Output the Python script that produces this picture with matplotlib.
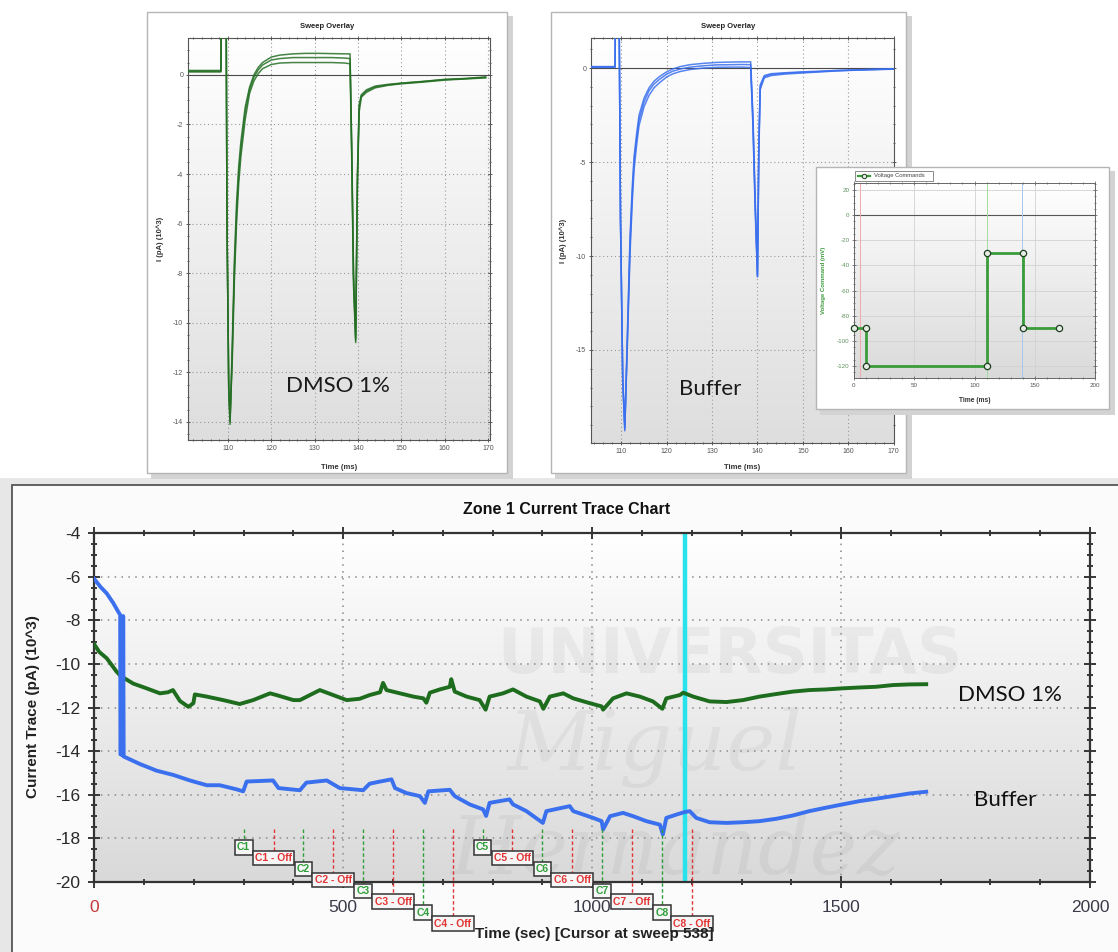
import matplotlib
matplotlib.use("Agg")
import matplotlib.pyplot as plt
import numpy as np
from matplotlib.colors import LinearSegmentedColormap
from matplotlib.lines import Line2D
from matplotlib.patches import Rectangle
from matplotlib.ticker import MultipleLocator

plt.rcParams["font.family"] = ["Liberation Sans", "DejaVu Sans"]
plt.rcParams["axes.unicode_minus"] = False

W, H = 1118, 952

# sweep overlay, DMSO 1% -- time (ms), current (10^3 pA); three overlaid sweeps
dmso_t = [100.8, 108.4, 108.5, 109.6, 109.8, 110.2, 110.5, 111.0, 111.5, 112.0,
          112.5, 113.0, 114.0, 115.0, 116.0, 117.0, 118.0, 120.0, 122.0, 125.0,
          128.0, 131.0, 134.0, 137.0, 138.2, 138.6, 139.0, 139.5, 139.9, 140.3,
          140.8, 142.0, 144.0, 147.0, 150.0, 155.0, 160.0, 165.0, 169.5]
dmso_hi = [0.18, 0.18, 3.0, 3.0, -6.0, -12.5, -14.1, -11.0, -7.5, -5.2,
           -3.7, -2.7, -1.3, -0.5, 0.0, 0.3, 0.5, 0.72, 0.8, 0.85,
           0.87, 0.87, 0.86, 0.85, 0.85, -3.0, -8.0, -10.6, -4.0, -1.2,
           -0.8, -0.6, -0.45, -0.38, -0.33, -0.26, -0.18, -0.14, -0.08]
dmso_mid = [0.15, 0.15, 3.0, 3.0, -6.0, -12.6, -14.0, -11.3, -7.9, -5.6,
            -4.0, -3.0, -1.5, -0.6, -0.1, 0.2, 0.4, 0.6, 0.66, 0.7,
            0.7, 0.7, 0.7, 0.68, 0.66, -3.2, -8.2, -10.7, -4.2, -1.3,
            -0.85, -0.65, -0.48, -0.4, -0.34, -0.27, -0.19, -0.15, -0.1]
dmso_lo = [0.12, 0.12, 3.0, 3.0, -6.0, -12.7, -13.9, -11.6, -8.3, -6.0,
           -4.4, -3.3, -1.8, -0.75, -0.25, 0.05, 0.25, 0.42, 0.48, 0.5,
           0.5, 0.5, 0.5, 0.48, 0.45, -3.5, -8.5, -10.8, -4.5, -1.5,
           -0.9, -0.7, -0.52, -0.42, -0.36, -0.29, -0.21, -0.16, -0.12]

# sweep overlay, buffer
buf_t = [103.3, 108.6, 108.7, 109.5, 109.8, 110.3, 110.75, 111.3, 111.9, 112.4,
         112.8, 113.4, 113.9, 115.0, 116.1, 117.2, 118.4, 120.0, 121.3, 123.0,
         125.1, 128.0, 131.0, 134.0, 136.5, 138.5, 139.0, 139.5, 140.0, 140.3,
         140.6, 141.5, 143.0, 146.0, 150.0, 153.4, 157.0, 160.9, 165.0, 170.0]
buf_hi = [0.08, 0.08, 3.0, 3.0, -8.0, -16.5, -19.3, -14.3, -9.0, -6.3,
          -4.7, -3.4, -2.5, -1.6, -1.05, -0.7, -0.45, -0.2, -0.05, 0.08,
          0.18, 0.25, 0.3, 0.32, 0.33, 0.33, -2.5, -7.0, -11.0, -4.0,
          -0.9, -0.4, -0.3, -0.25, -0.2, -0.17, -0.13, -0.1, -0.07, -0.05]
buf_mid = [0.06, 0.06, 3.0, 3.0, -8.0, -16.6, -19.2, -14.6, -9.4, -6.7,
           -5.0, -3.7, -2.75, -1.8, -1.2, -0.85, -0.6, -0.32, -0.17, -0.05,
           0.05, 0.12, 0.17, 0.18, 0.19, 0.18, -2.8, -7.3, -11.1, -4.3,
           -1.0, -0.45, -0.34, -0.28, -0.22, -0.19, -0.14, -0.11, -0.08, -0.05]
buf_lo = [0.04, 0.04, 3.0, 3.0, -8.0, -16.7, -19.1, -14.9, -9.9, -7.1,
          -5.4, -4.0, -3.05, -2.05, -1.45, -1.05, -0.78, -0.47, -0.31, -0.18,
          -0.08, 0.0, 0.04, 0.05, 0.05, 0.03, -3.1, -7.6, -11.1, -4.6,
          -1.15, -0.52, -0.4, -0.32, -0.26, -0.21, -0.16, -0.12, -0.09, -0.06]

# voltage protocol (ms, mV)
vc_t = [0, 10, 10, 110, 110, 140, 140, 170]
vc_mv = [-90, -90, -120, -120, -30, -30, -90, -90]

# zone 1 current trace (sec, 10^3 pA)
dmso_trace = [
    (0, -9.1), (10, -9.45), (25, -9.74), (45, -10.36), (55, -10.6), (56, -10.9),
    (60, -10.65), (78, -10.9), (105, -11.12), (132, -11.35), (148, -11.3),
    (158, -11.2), (172, -11.7), (189, -11.97), (199, -11.8), (202, -11.4),
    (226, -11.5), (259, -11.66), (292, -11.84), (319, -11.66), (353, -11.35),
    (366, -11.43), (400, -11.66), (413, -11.66), (433, -11.43), (453, -11.2),
    (480, -11.43), (507, -11.66), (533, -11.6), (553, -11.43), (574, -11.3),
    (580, -10.87), (587, -11.2), (614, -11.35), (641, -11.5), (661, -11.58),
    (667, -11.78), (674, -11.32), (694, -11.17), (714, -11.05), (717, -10.7),
    (724, -11.27), (748, -11.5), (774, -11.66), (786, -12.1), (794, -11.5),
    (821, -11.35), (841, -11.17), (868, -11.5), (895, -11.72), (902, -12.06),
    (915, -11.5), (942, -11.35), (962, -11.58), (995, -11.8), (1019, -11.95),
    (1022, -12.1), (1042, -11.58), (1069, -11.35), (1096, -11.5), (1122, -11.72),
    (1141, -12.06), (1149, -11.58), (1176, -11.43), (1183, -11.32), (1203, -11.5),
    (1236, -11.72), (1270, -11.75), (1303, -11.66), (1336, -11.5), (1370, -11.38),
    (1403, -11.27), (1436, -11.2), (1470, -11.17), (1503, -11.12), (1537, -11.08),
    (1570, -11.05), (1604, -10.97), (1637, -10.94), (1671, -10.93),
]
buffer_trace = [
    (0, -6.1), (12, -6.45), (25, -6.76), (38, -7.2), (48, -7.6), (52, -7.75),
    (52.5, -14.15), (57.5, -14.2), (58, -7.8), (59, -14.25), (92, -14.6),
    (125, -14.9), (159, -15.1), (192, -15.35), (226, -15.57), (252, -15.57),
    (286, -15.76), (299, -15.85), (306, -15.4), (359, -15.35), (370, -15.7),
    (413, -15.8), (426, -15.45), (467, -15.35), (493, -15.7), (540, -15.8),
    (553, -15.5), (574, -15.4), (597, -15.3), (604, -15.7), (627, -15.93),
    (654, -16.07), (664, -16.38), (671, -15.85), (714, -15.78), (724, -16.07),
    (754, -16.45), (781, -16.68), (787, -16.98), (794, -16.38), (834, -16.22),
    (841, -16.45), (868, -16.76), (901, -17.3), (908, -16.76), (955, -16.53),
    (962, -16.76), (1002, -17.07), (1019, -17.22), (1022, -17.6), (1036, -16.99),
    (1062, -16.84), (1082, -16.99), (1109, -17.22), (1136, -17.38), (1142, -17.83),
    (1149, -17.07), (1169, -16.92), (1186, -16.8), (1196, -16.76), (1209, -17.07),
    (1236, -17.27), (1270, -17.3), (1303, -17.27), (1336, -17.22), (1370, -17.11),
    (1403, -16.96), (1436, -16.76), (1470, -16.6), (1503, -16.45), (1537, -16.3),
    (1570, -16.19), (1604, -16.07), (1637, -15.95), (1671, -15.87),
]

# compound application markers (sec)
comp_on = [300, 420, 540, 660, 780, 900, 1020, 1140]
comp_off = [360, 480, 600, 720, 840, 960, 1080, 1200]
cursor_t = 1186

x_ticks = [0, 500, 1000, 1500, 2000]
x_tick_labels = ["0", "500", "1000", "1500", "2000"]

GREEN = "#1e6c1e"
GREEN_SWEEP = "#256f25"
BLUE = "#3a6fee"
CYAN = "#27e3ec"
MARK_GREEN = "#2e9e38"
MARK_RED = "#e23434"


def px_rect(x0, y0, x1, y1):
    return [x0 / W, 1 - y1 / H, (x1 - x0) / W, (y1 - y0) / H]


def fig_text(fig, x, y, s, **kw):
    kw.setdefault("ha", "center")
    kw.setdefault("va", "center")
    return fig.text(x / W, 1 - y / H, s, **kw)


def fig_rect(fig, x0, y0, x1, y1, **kw):
    fig.patches.append(Rectangle((x0 / W, 1 - y1 / H), (x1 - x0) / W,
                                 (y1 - y0) / H, transform=fig.transFigure, **kw))


def window(fig, x0, y0, x1, y1, z):
    fig_rect(fig, x0 + 4, y0 + 4, x1 + 6, y1 + 6, fc="#d3d3d3", ec="none", zorder=z)
    fig_rect(fig, x0, y0, x1, y1, fc="white", ec="#b5b5b5", lw=1.0, zorder=z + 0.01)


def shade(ax, bottom, top="#ffffff"):
    cmap = LinearSegmentedColormap.from_list("bg", [bottom, top])
    ax.imshow(np.linspace(0, 1, 256).reshape(-1, 1), cmap=cmap, origin="lower",
              extent=[0, 1, 0, 1], transform=ax.transAxes, aspect="auto",
              interpolation="bilinear", zorder=0)


def sweep_panel(fig, frame, plot, t, sweeps, color, xlim, ylim, ystep, yminor,
                tag, tag_xy):
    window(fig, *frame, z=0.2)
    ax = fig.add_axes(px_rect(*plot), zorder=1)
    shade(ax, "#dedede")
    for v in sweeps:
        ax.plot(t, v, color=color, lw=1.1, alpha=0.85, zorder=3)
    ax.axhline(0, color="#4a4a4a", lw=0.8, zorder=2)
    ax.set_xlim(*xlim)
    ax.set_ylim(*ylim)
    ax.xaxis.set_major_locator(MultipleLocator(10))
    ax.xaxis.set_minor_locator(MultipleLocator(2))
    ax.yaxis.set_major_locator(MultipleLocator(ystep))
    ax.yaxis.set_minor_locator(MultipleLocator(yminor))
    ax.tick_params(which="both", direction="inout", top=True, right=True,
                   color="#444444", width=0.6, labelsize=5, labelcolor="#555555",
                   pad=2)
    ax.tick_params(which="major", length=3)
    ax.tick_params(which="minor", length=2)
    ax.grid(True, which="major", color="#9a9a9a", ls=(0, (1, 2.5)), lw=0.8)
    for s in ax.spines.values():
        s.set_color("#555555")
        s.set_linewidth(0.8)
    x0, y0, x1, y1 = frame
    px0, py0, px1, py1 = plot
    fig_text(fig, (x0 + x1) / 2, y0 + 15, "Sweep Overlay", fontsize=5.5,
             fontweight="bold", color="#222222")
    fig_text(fig, (px0 + px1) / 2, y1 - 6, "Time (ms)", fontsize=5.5,
             fontweight="bold", color="#333333")
    fig_text(fig, px0 - 28, (py0 + py1) / 2, "I (pA) (10^3)", fontsize=5.5,
             fontweight="bold", color="#333333", rotation=90)
    ax.text(*tag_xy, tag, fontsize=16, family="Lato", color="#1a1a1a",
            ha="center", va="center", zorder=5)
    return ax


fig = plt.figure(figsize=(W / 100, H / 100), dpi=100)
fig.patch.set_facecolor("white")

# --- sweep overlays ---
sweep_panel(fig, (147, 12, 507, 473), (188, 38, 490, 440), dmso_t,
            [dmso_hi, dmso_mid, dmso_lo], GREEN_SWEEP, (100.8, 170.5),
            (-14.73, 1.49), 2, 0.5, "DMSO 1%", (135.5, -12.55))
sweep_panel(fig, (551, 12, 906, 473), (591, 38, 894, 443), buf_t,
            [buf_hi, buf_mid, buf_lo], BLUE, (103.3, 170.1), (-19.95, 1.6),
            5, 1, "Buffer", (129.5, -17.1))

# --- voltage protocol inset ---
window(fig, 816, 167, 1109, 409, z=2)
axv = fig.add_axes(px_rect(854, 183, 1095, 378), zorder=3)
shade(axv, "#dadada")
axv.axhline(0, color="#555555", lw=0.8, zorder=2)
axv.axvline(5, color="#f2a8a8", lw=0.7, zorder=2)
axv.axvline(110.5, color="#a4dca4", lw=0.7, zorder=2)
axv.axvline(139.7, color="#a6c8ee", lw=0.7, zorder=2)
axv.plot(vc_t, vc_mv, color="#3a9c3a", lw=2.0, marker="o", markersize=4.5,
         markerfacecolor="#e6ece6", markeredgecolor="#1f3f1f",
         markeredgewidth=0.9, zorder=4, clip_on=False)
axv.set_xlim(0, 200)
axv.set_ylim(-129.5, 25.6)
axv.xaxis.set_major_locator(MultipleLocator(50))
axv.xaxis.set_minor_locator(MultipleLocator(10))
axv.yaxis.set_major_locator(MultipleLocator(20))
axv.yaxis.set_minor_locator(MultipleLocator(5))
axv.tick_params(which="both", direction="inout", top=True, right=True,
                color="#555555", width=0.5, labelsize=4.5, pad=2)
axv.tick_params(which="major", length=2.5)
axv.tick_params(which="minor", length=1.5)
axv.tick_params(axis="y", labelcolor="#5f935f")
axv.tick_params(axis="x", labelcolor="#555555")
axv.grid(True, which="major", color="#d2d2d2", lw=0.6)
for s in axv.spines.values():
    s.set_color("#666666")
    s.set_linewidth(0.7)
fig_rect(fig, 855, 171, 933, 181, fc="white", ec="#777777", lw=0.6, zorder=4)
fig.add_artist(Line2D([858 / W, 870 / W], [1 - 176 / H] * 2, color="#3a9c3a",
                      lw=1.6, transform=fig.transFigure, zorder=5))
fig.add_artist(Line2D([864 / W], [1 - 176 / H], marker="o", markersize=3.2,
                      markerfacecolor="#e6ece6", markeredgecolor="#1f3f1f",
                      markeredgewidth=0.7, transform=fig.transFigure, zorder=5))
fig_text(fig, 874, 176, "Voltage Commands", fontsize=4.2, ha="left",
         color="#444444", zorder=5)
fig_text(fig, 823, 280, "Voltage Command (mV)", fontsize=4.3, rotation=90,
         color="#3d9a3d", fontweight="bold", zorder=5)
fig_text(fig, 975, 401, "Time (ms)", fontsize=4.8, fontweight="bold",
         color="#333333", zorder=5)

# --- zone 1 current trace chart ---
fig_rect(fig, 0, 478, W, H, fc="#e7e7e7", ec="none", zorder=-2)
fig_rect(fig, 12, 485, W + 10, H + 10, fc="#fbfbfb", ec="#555555", lw=1.3,
         zorder=-1)

AX0, AY0, AX1, AY1 = 94.3, 533.3, 1090, 881.7
ax = fig.add_axes(px_rect(AX0, AY0, AX1, AY1), zorder=1)
shade(ax, "#d9d9d9")


def ax_frac(px, py):
    return (px - AX0) / (AX1 - AX0), (AY1 - py) / (AY1 - AY0)


# faint university watermark behind the traces
for s, (px, py), size, style, weight in [
        ("UNIVERSITAS", (730, 656), 45, "normal", "bold"),
        ("Miguel", (655, 748), 60, "italic", "normal"),
        ("Hernández", (675, 852), 58, "italic", "normal")]:
    fx, fy = ax_frac(px, py)
    ax.text(fx, fy, s, transform=ax.transAxes, fontsize=size, style=style,
            fontweight=weight, family="DejaVu Serif" if style == "italic" else "DejaVu Sans",
            color="#000000", alpha=0.045, ha="center", va="center", zorder=1,
            clip_on=False)

ax.axvline(cursor_t, color=CYAN, lw=3.2, zorder=2)
t_d, v_d = zip(*dmso_trace)
t_b, v_b = zip(*buffer_trace)
ax.plot(t_d, v_d, color=GREEN, lw=2.8, zorder=3)
ax.plot(t_b, v_b, color=BLUE, lw=2.8, zorder=3)

for i, (on, off) in enumerate(zip(comp_on, comp_off)):
    lvl = i % 4
    y_on = -18.42 - lvl
    y_off = -18.92 - lvl
    ax.plot([on, on], [-17.6, y_on], color=MARK_GREEN, ls=(0, (2.5, 1.8)), lw=1.0,
            clip_on=False, zorder=4)
    ax.plot([off, off], [-17.6, y_off], color=MARK_RED, ls=(0, (2.5, 1.8)), lw=1.0,
            clip_on=False, zorder=4)
    ax.text(on, y_on, f"C{i + 1}", ha="center", va="center", fontsize=7.5,
            fontweight="bold", color=MARK_GREEN, clip_on=False, zorder=6 + 2 * i,
            bbox=dict(boxstyle="square,pad=0.22", fc="#f6f6f6", ec="#333333", lw=1.1))
    ax.text(off, y_off, f"C{i + 1} - Off", ha="center", va="center", fontsize=7.5,
            fontweight="bold", color=MARK_RED, clip_on=False, zorder=7 + 2 * i,
            bbox=dict(boxstyle="square,pad=0.22", fc="#f6f6f6", ec="#333333", lw=1.1))

ax.set_xlim(0, 2000)
ax.set_ylim(-20, -4)
ax.set_xticks(x_ticks)
ax.xaxis.set_minor_locator(MultipleLocator(100))
ax.yaxis.set_major_locator(MultipleLocator(2))
ax.yaxis.set_minor_locator(MultipleLocator(0.5))
ax.tick_params(which="both", direction="inout", top=True, right=True,
               color="#2a2a2a", width=1.3)
ax.tick_params(which="major", length=8, labelsize=12.5, pad=6)
ax.tick_params(which="minor", length=5)
ax.tick_params(axis="x", labelcolor="#3a3a48", pad=9)
ax.tick_params(axis="y", labelcolor="#2a2a2a")
labels = ax.set_xticklabels(x_tick_labels)
labels[0].set_color("#c23a3a")
ax.grid(True, which="major", color="#8a8a8a", ls=(0, (1, 3.5)), lw=1.1)
for s in ax.spines.values():
    s.set_color("#333333")
    s.set_linewidth(1.6)

fig_text(fig, 567, 509, "Zone 1 Current Trace Chart", fontsize=11.5,
         fontweight="bold", color="#111111")
fig_text(fig, 33, 707, "Current Trace (pA) (10^3)", fontsize=11,
         fontweight="bold", color="#222222", rotation=90)
fig_text(fig, 594, 934, "Time (sec) [Cursor at sweep 538]", fontsize=11,
         fontweight="bold", color="#222222")
fig_text(fig, 1010, 695, "DMSO 1%", fontsize=16, family="Lato", color="#111111")
fig_text(fig, 1005, 800, "Buffer", fontsize=16, family="Lato", color="#111111")

fig.savefig("out.png", dpi=100, facecolor=fig.get_facecolor())
